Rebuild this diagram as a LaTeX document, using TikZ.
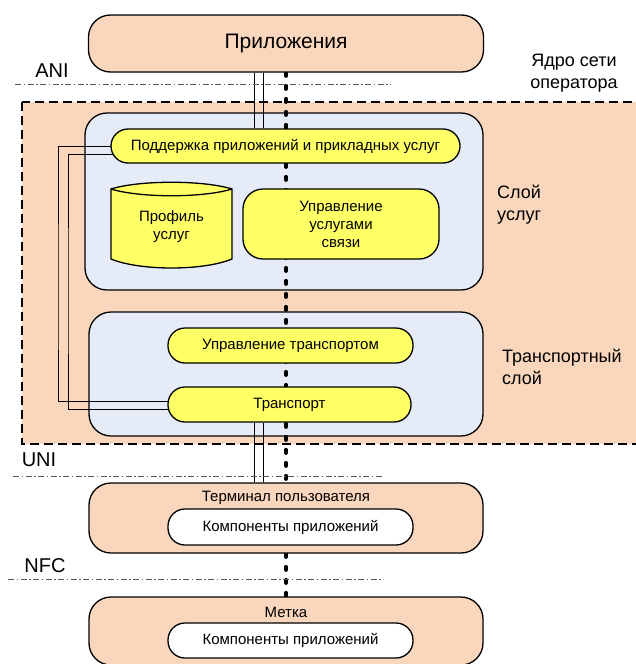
\documentclass[tikz,border=0pt]{standalone}
\usepackage{fontspec}
\setmainfont{Liberation Sans}
\definecolor{peachc}{RGB}{250,215,188}
\definecolor{bluec}{RGB}{230,236,247}
\definecolor{yellowc}{RGB}{255,255,102}
\definecolor{linec}{RGB}{90,90,90}
\pgfdeclarelayer{bg}
\pgfdeclarelayer{wires}
\pgfsetlayers{bg,wires,main}

\begin{document}
\begin{tikzpicture}[x=1pt, y=-1pt, inner sep=0pt,
    box/.style={draw, line width=1.3pt, rounded corners=22pt},
    pill/.style={draw, line width=1.3pt, fill=yellowc, rounded corners=17pt,
        font=\fontsize{15}{18}\selectfont, align=center},
    whitepill/.style={pill, fill=white},
    ifline/.style={draw=linec, line width=0.8pt, dash pattern=on 6pt off 2.5pt on 1.5pt off 2.5pt},
    wire/.style={line width=0.9pt},
    dotline/.style={line width=3.4pt, line cap=round, dash pattern=on 3.5pt off 9.5pt},
    txt/.style={font=\fontsize{15}{18}\selectfont},
    side/.style={font=\fontsize{18}{22}\selectfont, align=left, anchor=west},
    iface/.style={font=\fontsize{20}{24}\selectfont}]

\useasboundingbox (0,0) rectangle (636,664);

\begin{pgfonlayer}{bg}
    \draw[fill=peachc, line width=1.5pt, dash pattern=on 9pt off 5pt] (22,102) rectangle (650,444);
    \node[box, fill=bluec, minimum width=398pt, minimum height=177pt] (svc) at (284,201.5) {};
    \node[box, fill=bluec, minimum width=394pt, minimum height=124pt] (tr) at (286,374) {};
\end{pgfonlayer}

\node[box, fill=peachc, minimum width=395pt, minimum height=57pt,
    font=\fontsize{21}{24}\selectfont] (app) at (286,43.5) {Приложения};
\node[iface] (ani) at (52,71) {ANI};
\draw[ifline] (15,84) -- (391,84);
\node[align=center, font=\fontsize{18}{22}\selectfont] (core) at (574,73.5) {Ядро сети\\оператора};

% service layer
\node[pill, minimum width=349pt, minimum height=34pt] (supp) at (285.5,146) {Поддержка приложений и прикладных услуг};
\draw[line width=1.3pt, fill=yellowc] (111,189) .. controls (140,180) and (203,180) .. (232,189)
    -- (232,259) .. controls (203,271) and (140,271) .. (111,259) -- cycle;
\draw[line width=1.3pt] (111,189) .. controls (140,198) and (203,198) .. (232,189);
\node[txt, align=center] (prof) at (171.5,227) {Профиль\\услуг};
\node[pill, rounded corners=20pt, minimum width=196pt, minimum height=70pt] (ctrl) at (341,224) {Управление\\услугами\\связи};
\node[side] (svclbl) at (497,205) {Слой\\услуг};

% transport layer
\node[pill, minimum width=245pt, minimum height=35pt] (tctrl) at (290.5,345.5) {Управление транспортом};
\node[pill, minimum width=243pt, minimum height=35pt] (trans) at (289.5,404.5) {Транспорт};
\node[side] (trlbl) at (502,367) {Транспортный\\слой};

\node[iface] (uni) at (39,460) {UNI};
\draw[ifline] (13,476.5) -- (382,476.5);
\node[box, fill=peachc, minimum width=394pt, minimum height=70pt] (term) at (286,518) {};
\node[txt] (termlbl) at (286,498) {Терминал пользователя};
\node[whitepill, minimum width=245pt, minimum height=36pt] (comp) at (290.5,527) {Компоненты приложений};

\node[iface] (nfc) at (45,566) {NFC};
\draw[ifline] (8,579) -- (383,579);
\node[box, fill=peachc, minimum width=394pt, minimum height=68pt] (tag) at (286,631) {};
\node[txt] (taglbl) at (286,612) {Метка};
\node[whitepill, minimum width=245pt, minimum height=35pt] (tagcomp) at (290.5,640.5) {Компоненты приложений};

\begin{pgfonlayer}{wires}
    \coordinate (dl) at (254.5,0);
    \coordinate (dr) at (263.5,0);
    \coordinate (lo) at (58,300);
    \coordinate (li) at (68,300);
    \draw[dotline] (app.south) -- (term.north);
    \draw[dotline] (term.south) -- (tag.north);
    \foreach \c in {dl,dr} {
        \draw[wire] (app.south -| \c) -- (supp.north -| \c);
        \draw[wire] (trans.south -| \c) -- (term.north -| \c);
    }
    \draw[wire] (supp.center) -| (lo) |- ([yshift=3.5pt]trans.center);
    \draw[wire] ([yshift=-8pt]supp.center) -| (li) |- ([yshift=-4.5pt]trans.center);
\end{pgfonlayer}

\end{tikzpicture}
\end{document}
